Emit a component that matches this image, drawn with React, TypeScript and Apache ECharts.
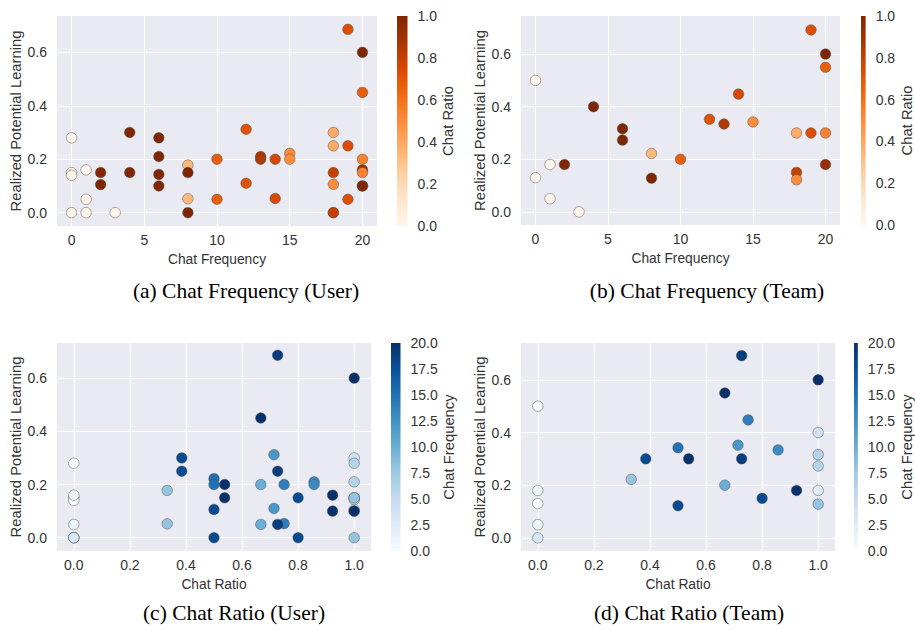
import React, { useEffect, useRef } from "react";
import * as echarts from "echarts";

// ---------- data ----------
const userFreq = [0, 0, 0, 0, 1, 1, 1, 2, 2, 3, 4, 4, 6, 6, 6, 6, 8, 8, 8, 8, 10, 10, 12, 12, 13, 13, 14, 14, 15, 15, 18, 18, 18, 18, 18, 18, 19, 19, 19, 20, 20, 20, 20, 20, 20, 20];
const userRPL = [0.28, 0.15, 0.14, 0, 0.16, 0.05, 0, 0.15, 0.105, 0, 0.3, 0.15, 0.28, 0.21, 0.143, 0.1, 0.178, 0.15, 0.052, 0, 0.2, 0.05, 0.312, 0.11, 0.21, 0.2, 0.2, 0.053, 0.222, 0.2, 0.3, 0.25, 0.15, 0.106, 0, 0, 0.686, 0.25, 0.05, 0.6, 0.45, 0.2, 0.16, 0.15, 0.1, 0.1];
const userRatio = [0, 0, 0, 0, 0, 0, 0, 1, 1, 0, 1, 1, 1, 1, 1, 1, 0.333, 1, 0.333, 1, 0.667, 0.667, 0.714, 0.714, 0.857, 0.857, 0.75, 0.75, 0.5, 0.5, 0.385, 0.385, 0.8, 0.5, 0.5, 0.8, 0.727, 0.727, 0.727, 1, 0.667, 0.538, 0.923, 0.538, 0.923, 1];

const teamFreq = [0, 0, 1, 1, 2, 3, 4, 6, 6, 8, 8, 10, 12, 13, 14, 15, 18, 18, 18, 19, 19, 20, 20, 20, 20];
const teamRPL = [0.5, 0.13, 0.18, 0.05, 0.18, 0, 0.4, 0.316, 0.273, 0.222, 0.128, 0.2, 0.352, 0.334, 0.448, 0.342, 0.3, 0.15, 0.122, 0.692, 0.3, 0.6, 0.55, 0.3, 0.18];
const teamRatio = [0, 0, 0, 0, 1, 0, 1, 1, 1, 0.333, 1, 0.667, 0.714, 0.857, 0.75, 0.5, 0.385, 0.8, 0.5, 0.727, 0.727, 1, 0.667, 0.538, 0.923];

const freqTicks = [0, 5, 10, 15, 20];
const ratioTicks = [0, 0.2, 0.4, 0.6, 0.8, 1.0];
const rplTicks = [0, 0.2, 0.4, 0.6];

const captions = ["(a) Chat Frequency (User)", "(b) Chat Frequency (Team)", "(c) Chat Ratio (User)", "(d) Chat Ratio (Team)"];

// ---------- styles ----------
const FONT = "'Liberation Sans', Arial, sans-serif";
const TXT = "#333333";
const ORANGES = ["#fff5eb", "#fee6ce", "#fdd0a2", "#fdae6b", "#fd8d3c", "#f16913", "#d94801", "#a63603", "#7f2704"];
const BLUES = ["#f7fbff", "#deebf7", "#c6dbef", "#9ecae1", "#6baed6", "#4292c6", "#2171b5", "#08519c", "#08306b"];

const fmt1 = (v: number) => v.toFixed(1);
const fmt0 = (v: number) => String(Math.round(v));

type Panel = {
  grid: any; cb: any; xMin: number; xMax: number; xTicks: number[]; xName: string; xFmt: (v: number) => string;
  yMin: number; yMax: number; data: number[][]; cmap: string[]; cMax: number; cInterval: number; cName: string;
  cGap: number; caption: [number, number];
};

export default function App() {
  const ref = useRef<HTMLDivElement>(null);
  useEffect(() => {
    if (!ref.current) return;
    const chart = echarts.init(ref.current, undefined, { renderer: "svg" });

    const panels: Panel[] = [
      {
        grid: { left: 57, top: 16, width: 320, height: 210 },
        cb: { left: 397, top: 16, width: 10.5, height: 210 },
        xMin: -1, xMax: 21, xTicks: freqTicks, xName: "Chat Frequency", xFmt: fmt0,
        yMin: -0.05, yMax: 0.736,
        data: userFreq.map((f, i) => [f, userRPL[i], userRatio[i]]),
        cmap: ORANGES, cMax: 1, cInterval: 0.2, cName: "Chat Ratio", cGap: 31, caption: [246, 291],
      },
      {
        grid: { left: 521, top: 16, width: 319, height: 209 },
        cb: { left: 861, top: 16, width: 10, height: 209 },
        xMin: -1, xMax: 21, xTicks: freqTicks, xName: "Chat Frequency", xFmt: fmt0,
        yMin: -0.05, yMax: 0.745,
        data: teamFreq.map((f, i) => [f, teamRPL[i], teamRatio[i]]),
        cmap: ORANGES, cMax: 1, cInterval: 0.2, cName: "Chat Ratio", cGap: 32, caption: [707, 291],
      },
      {
        grid: { left: 57, top: 343, width: 314, height: 208 },
        cb: { left: 391, top: 343, width: 9.5, height: 208 },
        xMin: -0.06, xMax: 1.06, xTicks: ratioTicks, xName: "Chat Ratio", xFmt: fmt1,
        yMin: -0.05, yMax: 0.732,
        data: userRatio.map((r, i) => [r, userRPL[i], userFreq[i]]),
        cmap: BLUES, cMax: 20, cInterval: 2.5, cName: "Chat Frequency", cGap: 40, caption: [234, 613],
      },
      {
        grid: { left: 521, top: 343, width: 314, height: 208 },
        cb: { left: 854, top: 343, width: 10, height: 208 },
        xMin: -0.06, xMax: 1.06, xTicks: ratioTicks, xName: "Chat Ratio", xFmt: fmt1,
        yMin: -0.05, yMax: 0.74,
        data: teamRatio.map((r, i) => [r, teamRPL[i], teamFreq[i]]),
        cmap: BLUES, cMax: 20, cInterval: 2.5, cName: "Chat Frequency", cGap: 39, caption: [689, 613],
      },
    ];

    const textStyle = { color: TXT, fontFamily: FONT, fontSize: 14 };
    const hName = { ...textStyle, fontSize: 13.8 };
    const vName = { ...textStyle, fontSize: 14.8 };
    const grids: any[] = [];
    const xAxes: any[] = [];
    const yAxes: any[] = [];
    const series: any[] = [];
    const visualMaps: any[] = [];

    panels.forEach((p, i) => {
      grids.push({ ...p.grid, show: true, backgroundColor: "#EAEAF2", borderWidth: 0 });
      xAxes.push({
        gridIndex: 2 * i, type: "value", min: p.xMin, max: p.xMax,
        name: p.xName, nameLocation: "middle", nameGap: 26,
        nameTextStyle: hName,
        axisLine: { show: false },
        axisTick: { show: false, customValues: p.xTicks },
        axisLabel: { customValues: p.xTicks, formatter: p.xFmt, margin: 7, ...textStyle },
        splitLine: { show: true, lineStyle: { color: "#ffffff", width: 1.1 } },
      });
      yAxes.push({
        gridIndex: 2 * i, type: "value", min: p.yMin, max: p.yMax,
        name: "Realized Potential Learning", nameLocation: "middle", nameGap: 34, nameRotate: 90,
        nameTextStyle: vName,
        axisLine: { show: false },
        axisTick: { show: false, customValues: rplTicks },
        axisLabel: { customValues: rplTicks, formatter: fmt1, margin: 10, ...textStyle },
        splitLine: { show: true, lineStyle: { color: "#ffffff", width: 1.1 } },
      });
      // colorbar grid
      grids.push({ ...p.cb, show: false });
      xAxes.push({ gridIndex: 2 * i + 1, type: "category", data: [""], show: false });
      yAxes.push({
        gridIndex: 2 * i + 1, type: "value", position: "right", min: 0, max: p.cMax, interval: p.cInterval,
        name: p.cName, nameLocation: "middle", nameGap: p.cGap, nameRotate: 90,
        nameTextStyle: vName,
        axisLine: { show: false }, axisTick: { show: false }, splitLine: { show: false },
        axisLabel: { formatter: fmt1, margin: 10, ...textStyle },
      });
    });

    panels.forEach((p, i) => {
      series.push({
        type: "scatter", xAxisIndex: 2 * i, yAxisIndex: 2 * i, data: p.data,
        symbol: "circle", symbolSize: 10.5,
        itemStyle: { borderColor: "rgba(70,70,70,0.75)", borderWidth: 0.6, opacity: 1 },
        silent: true,
      });
      visualMaps.push({
        type: "continuous", show: false, seriesIndex: i, dimension: 2, min: 0, max: p.cMax,
        inRange: { color: p.cmap },
      });
    });
    panels.forEach((p, i) => {
      const stops = p.cmap.map((c, k) => ({ offset: k / (p.cmap.length - 1), color: c }));
      series.push({
        type: "bar", xAxisIndex: 2 * i + 1, yAxisIndex: 2 * i + 1, data: [p.cMax],
        barWidth: "100%", silent: true,
        itemStyle: { color: new echarts.graphic.LinearGradient(0, 1, 0, 0, stops) },
      });
    });

    const graphics = panels.map((p, i) => ({
      type: "text", x: p.caption[0], y: p.caption[1], silent: true,
      style: {
        text: captions[i], align: "center", verticalAlign: "middle",
        fontFamily: "'Liberation Serif', 'Times New Roman', serif", fontSize: 21.5, fill: "#000000",
      },
    }));

    chart.setOption({
      animation: false,
      backgroundColor: "#ffffff",
      grid: grids,
      xAxis: xAxes,
      yAxis: yAxes,
      visualMap: visualMaps,
      series,
      graphic: graphics,
    });
    return () => chart.dispose();
  }, []);

  return <div ref={ref} style={{ position: "fixed", left: 0, top: 0, width: 915, height: 630 }} />;
}
